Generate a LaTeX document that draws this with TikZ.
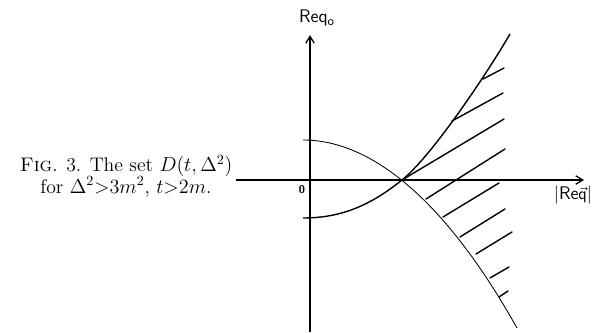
\documentclass[tikz,border=0pt]{standalone}
\usepackage{tikz}
\usetikzlibrary{arrows.meta}
\tikzset{
  axisline/.style={line width=0.9pt, -{Straight Barb[length=5pt,width=6pt]}},
  hatch/.style={line width=1pt, line cap=round},
  handlabel/.style={font=\sffamily\fontsize{13}{13}\selectfont},
}
\begin{document}
\begin{tikzpicture}[x=0.025cm,y=-0.025cm]
\useasboundingbox (0,0) rectangle (601,332);
% axes
\coordinate (xstart) at (236,180);
\coordinate (xend) at (584,180);
\coordinate (ystart) at (310,332);
\coordinate (yend) at (310,35);
\draw[axisline] (xstart) -- (xend);
\draw[axisline] (ystart) -- (yend);
\node[handlabel] (reqnull) at (317,18) {Req$_{\mathsf{o}}$};
\node[handlabel] (reqvec) at (573,195) {|Re$\vec{\mathsf{q}}$|};
\node[font=\sffamily\bfseries\fontsize{8}{8}\selectfont] (zero) at (302,190) {0};
% caption
\node[font=\fontsize{14}{15.5}\selectfont, align=center] (caption) at (126,176)
  {\textsc{Fig}. 3. The set $D(t,\Delta^2)$\\ for $\Delta^2{>}3m^2$, $t{>}2m$.};
% the two curves
\draw[line width=0.6pt] (303,140) parabola (517,328);
\draw[line width=1pt] (303,218) .. controls (343,218) and (372,204) .. (402,180)
  .. controls (432,156) and (488,72) .. (510,34);
% hatching
\foreach \xa/\ya/\xb/\yb in {483/79/504/68, 452/121/503/93, 402/180/504/119,
    426/199/505/149, 443/217/499/183, 460/237/505/209, 476/254/512/232,
    490/278/509/267, 499/297/508/291}
  \draw[hatch] (\xa,\ya) -- (\xb,\yb);
\end{tikzpicture}
\end{document}
